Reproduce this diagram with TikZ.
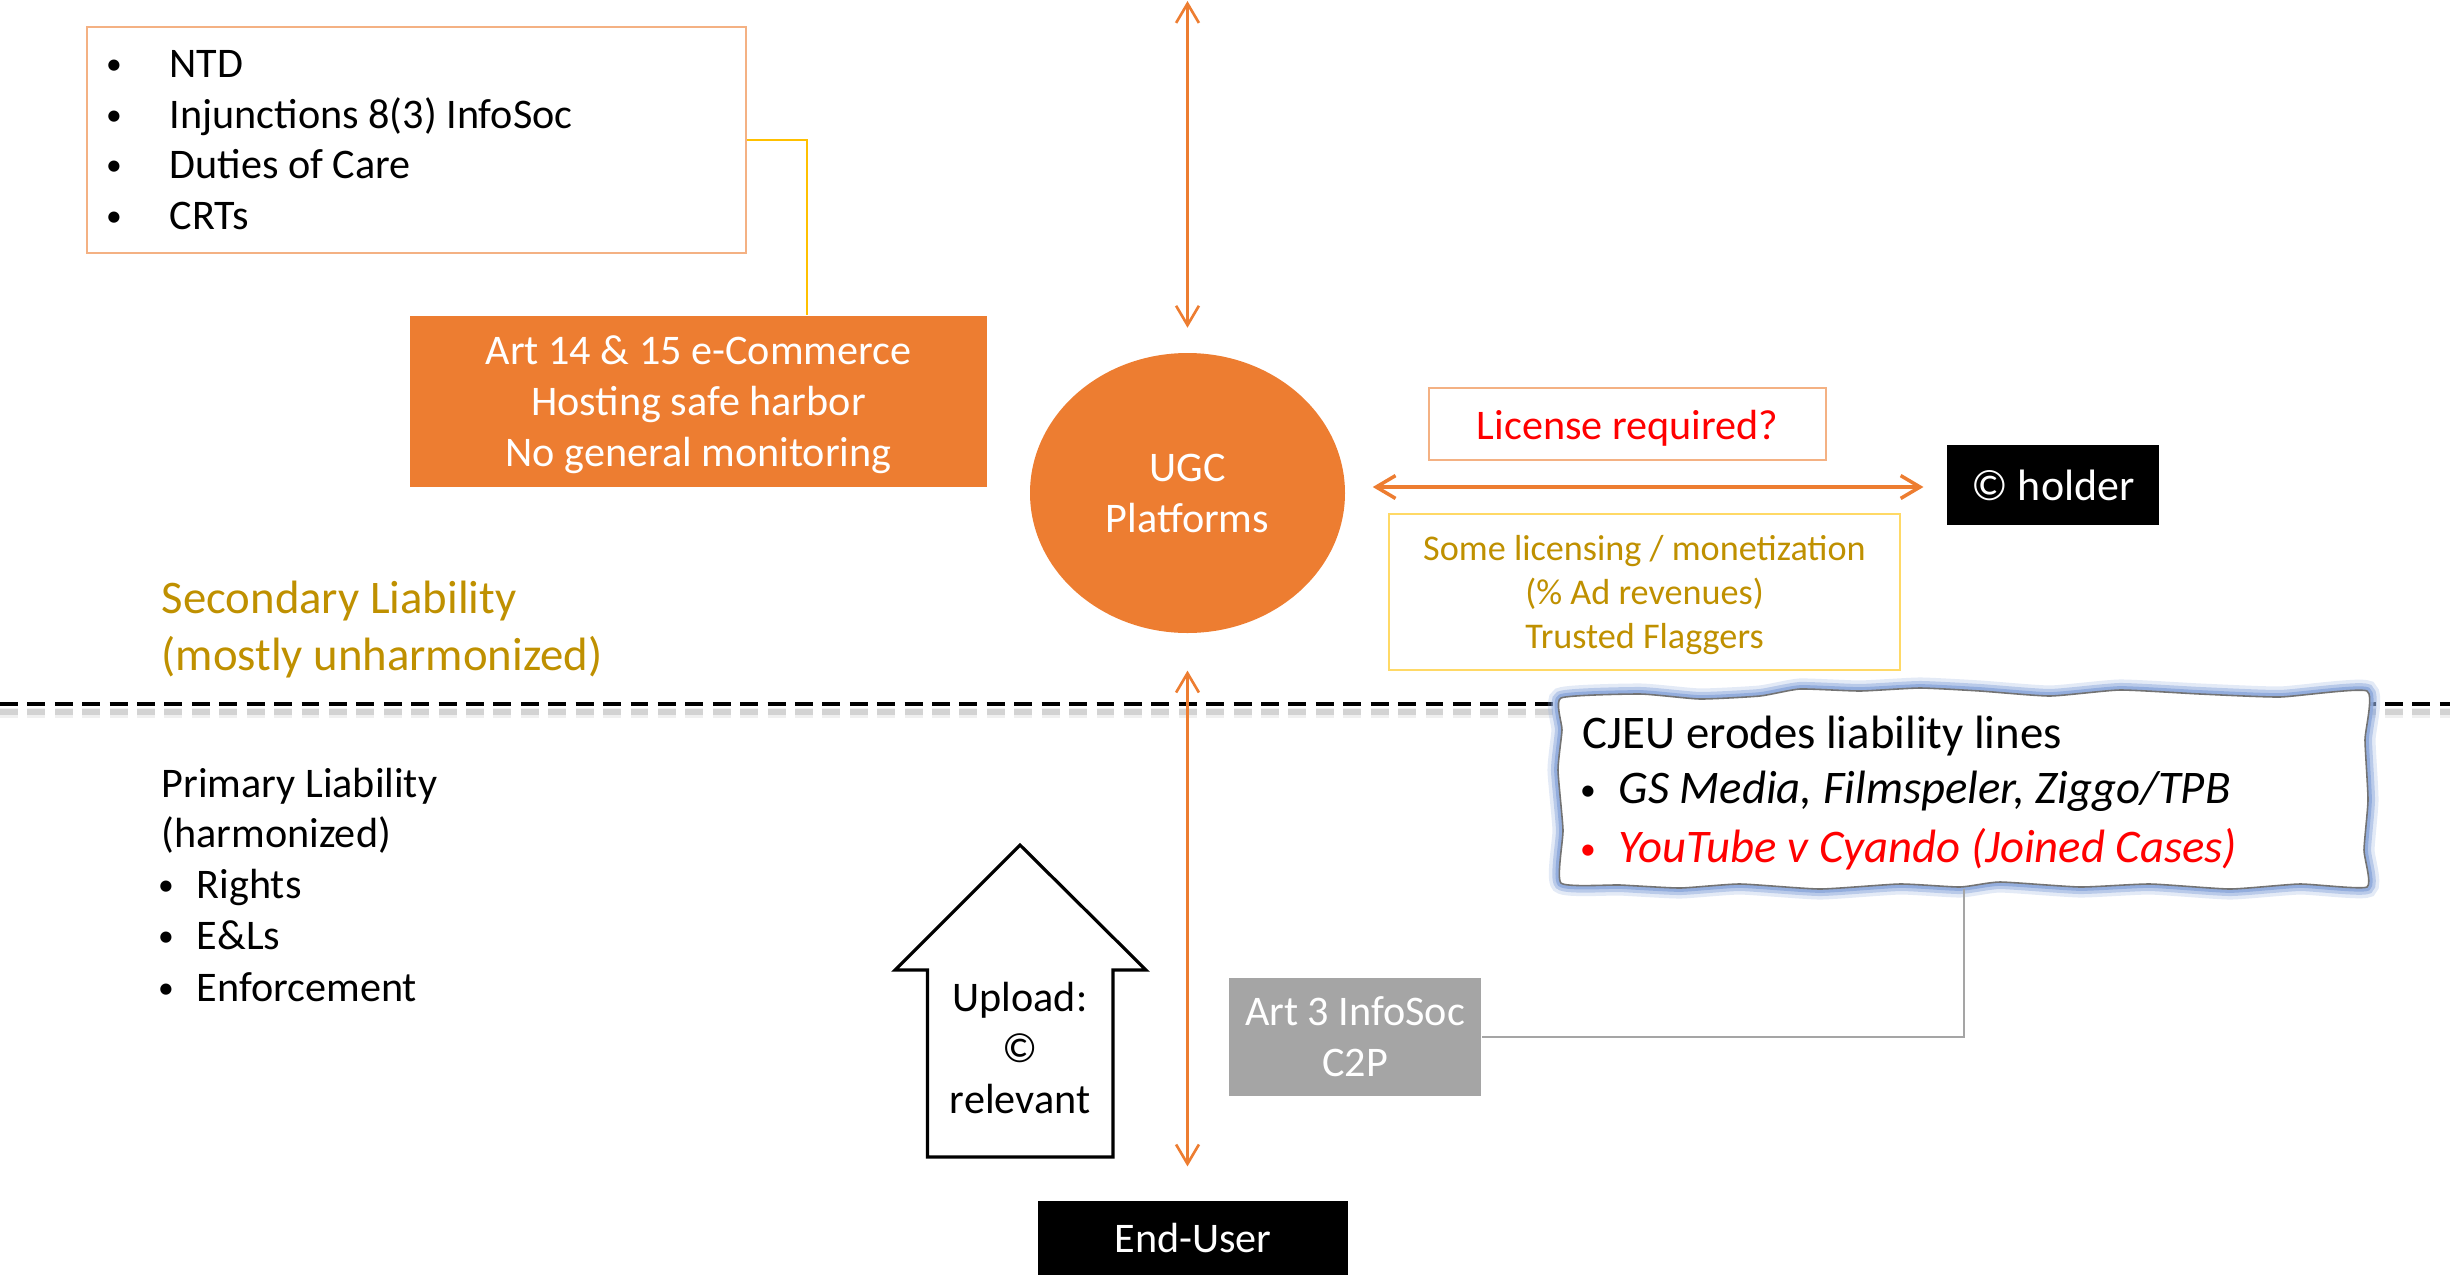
\documentclass[tikz,border=0pt]{standalone}
\usepackage{fontspec}
\setmainfont{Carlito}
\usetikzlibrary{arrows.meta,shapes.geometric}
\definecolor{accent}{HTML}{ED7D31}
\definecolor{peach}{HTML}{F4B183}
\definecolor{goldtxt}{HTML}{BF9000}
\definecolor{goldline}{HTML}{FFC000}
\definecolor{goldbox}{HTML}{FFD966}
\definecolor{greybox}{HTML}{A5A5A5}
\definecolor{glowblue}{HTML}{8FAADC}
\definecolor{redtxt}{HTML}{FF0000}
\newcommand{\smallbullet}{{\fontsize{9}{9}\selectfont\raisebox{0.6pt}{•}}}

\begin{document}
\begin{tikzpicture}[x=0.1mm,y=-0.1mm,
  txt/.style={inner sep=0pt, anchor=base west, font=\fontsize{12}{14.5}\selectfont},
  bigtxt/.style={inner sep=0pt, anchor=base west, font=\fontsize{13.3}{16.2}\selectfont},
  bul/.style={inner sep=0pt, anchor=base},
  box/.style={inner sep=0pt, align=center, font=\fontsize{12}{14.5}\selectfont},
  flow/.style={draw=accent, line width=0.75pt, {Straight Barb[length=5.5pt,width=6.5pt]}-{Straight Barb[length=5.5pt,width=6.5pt]}},
]
\useasboundingbox (0,0) rectangle (2450,1274);

% ---------- upper half: secondary liability ----------
\node[box, draw=peach, line width=0.6pt, minimum width=65.85mm, minimum height=22.6mm] (tl) at (416.5,140) {};
\node[bul] (b1) at (114,77) {\smallbullet};  \node[txt] (l1) at (169,77) {NTD};
\node[bul] (b2) at (114,128) {\smallbullet}; \node[txt] (l2) at (169,128) {Injunctions 8(3) InfoSoc};
\node[bul] (b3) at (114,178) {\smallbullet}; \node[txt] (l3) at (169,178) {Duties of Care};
\node[bul] (b4) at (114,229) {\smallbullet}; \node[txt] (l4) at (169,229) {CRTs};

\node[box, fill=accent, minimum width=57.7mm, minimum height=17.1mm] (art14) at (698.5,401.5) {};
\node[box, text=white, yshift=-0.9pt] (art14t) at (art14.center)
  {Art 14 \& 15 e-Commerce\\Hosting safe harbor\\No general monitoring};

\coordinate (goldx) at (807,0);
\draw[goldline, line width=0.5pt] (tl.east) -| (art14.north -| goldx);

\node[bigtxt, text=goldtxt] (sec1) at (161,613) {Secondary Liability};
\node[bigtxt, text=goldtxt] (sec2) at (161,670) {(mostly unharmonized)};

\node[ellipse, fill=accent, text=white, inner sep=0pt, minimum width=31.5mm, minimum height=28mm,
  align=center, font=\fontsize{12}{14.5}\selectfont] (ugc) at (1187.5,493) {UGC\\Platforms};

\coordinate (topend) at (1187.5,1);
\draw[flow, shorten >=7pt] (topend) -- (ugc.north);

\node[box, draw=peach, line width=0.6pt, minimum width=39.7mm, minimum height=7.2mm] (lic) at (1627.5,424) {};
\node[box, text=redtxt, yshift=-1.2pt] (lict) at (lic.center) {License required?};

\node[box, fill=black, text=white, minimum width=21.2mm, minimum height=8mm] (holder) at (2053,485) {\fontsize{12.5}{15}\selectfont © holder};

\coordinate (hy) at (0,487);
\draw[flow, line width=1pt, shorten <=7.7pt, shorten >=6.5pt] (ugc.east |- hy) -- (holder.west |- hy);

\node[box, draw=goldbox, line width=0.6pt, minimum width=51.1mm, minimum height=15.6mm] (lics) at (1644.5,592) {};
\node[box, text=goldtxt, font=\fontsize{10.3}{12.5}\selectfont, yshift=-0.8pt] (licst) at (lics.center)
  {Some licensing / monetization\\(\% Ad revenues)\\Trusted Flaggers};

% ---------- separator with soft shadow ----------
\draw[black, line width=2.6pt, opacity=0.06, dash pattern=on 5.1pt off 2.7pt] (0,713) -- (2450,713);
\draw[black, line width=1.6pt, opacity=0.12, dash pattern=on 5.1pt off 2.7pt] (0,712) -- (2450,712);
\draw[black, line width=1.15pt, dash pattern=on 5.1pt off 2.7pt] (0,704) -- (2450,704);

% ---------- lower half: primary liability ----------
\node[txt] (pl1) at (161,797) {Primary Liability};
\node[txt] (pl2) at (161,847) {(harmonized)};
\node[bul] (pb1) at (166,898) {\smallbullet};  \node[txt] (pr1) at (196,898) {Rights};
\node[bul] (pb2) at (166,949) {\smallbullet};  \node[txt] (pr2) at (196,949) {E\&Ls};
\node[bul] (pb3) at (166,1001) {\smallbullet}; \node[txt] (pr3) at (196,1001) {Enforcement};

% CJEU callout with a hand-drawn outline and soft blue glow
\def\cjeuoutline{plot[smooth cycle, tension=0.3] coordinates {
  (1561,698) (1640,694) (1700,699) (1760,696) (1800,689) (1860,691) (1920,688) (1980,691)
  (2050,696) (2120,690) (2200,694) (2280,697) (2367,691)
  (2365,740) (2368,800) (2364,850) (2367,887)
  (2300,884) (2230,889) (2150,884) (2080,887) (2000,882) (1960,887) (1900,884)
  (1820,889) (1740,884) (1680,888) (1620,885) (1561,883)
  (1563,830) (1558,770) (1562,730)}}
\draw[glowblue, line width=6pt, opacity=0.25] \cjeuoutline;
\draw[glowblue, line width=4pt, opacity=0.5] \cjeuoutline;
\draw[glowblue, line width=2.2pt, opacity=0.9] \cjeuoutline;
\fill[white] \cjeuoutline;
\draw[black!55, line width=0.45pt] \cjeuoutline;

\node[inner sep=0pt, minimum width=80.6mm, minimum height=19.6mm] (cjeu) at (1964,790) {};
\node[bigtxt] (cj1) at (1582,748) {CJEU erodes liability lines};
\node[bul, font=\fontsize{13.3}{16.2}\selectfont] (cjb1) at (1588,803) {\smallbullet};
\node[bigtxt, font=\fontsize{13.3}{16.2}\selectfont\itshape] (cj2) at (1618,803) {GS Media, Filmspeler, Ziggo/TPB};
\node[bul, text=redtxt] (cjb2) at (1588,862) {\smallbullet};
\node[bigtxt, text=redtxt, font=\fontsize{13.3}{16.2}\selectfont\itshape] (cj3) at (1618,862) {YouTube v Cyando (Joined Cases)};

\node[box, fill=greybox, text=white, minimum width=25.2mm, minimum height=11.8mm] (art3) at (1355,1037) {Art 3 InfoSoc\\C2P};
\draw[greybox, line width=0.5pt] (cjeu.south) |- (art3.east);

% upload arrow
\draw[line width=0.9pt, fill=white, line join=miter]
  (1020,845) -- (1146,970) -- (1113,970) -- (1113,1157) -- (927.5,1157) -- (927.5,970) -- (895,970) -- cycle;
\node[box] (upl) at (1020,1048) {Upload:\\©\\relevant};

\node[box, fill=black, text=white, minimum width=31mm, minimum height=7.4mm] (enduser) at (1193,1237.5) {End-User};

\draw[flow, shorten <=10.5pt, shorten >=9.5pt] (ugc.south) -- (ugc.south |- enduser.north);

\end{tikzpicture}
\end{document}
